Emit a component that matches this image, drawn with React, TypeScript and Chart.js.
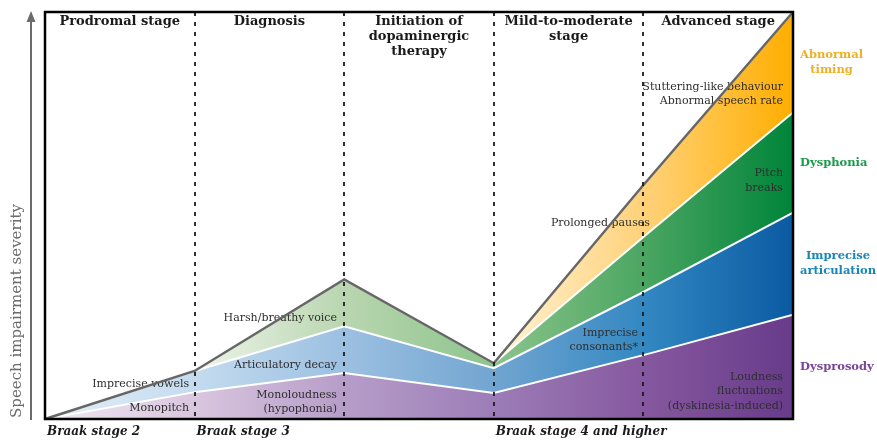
import { useEffect, useRef } from "react";
import { Chart, registerables } from "chart.js";

Chart.register(...registerables);

// ---- data ----
const stagePositions = [0, 1, 2, 3, 4, 5];
const dysprosody = [0, 6.6, 11.3, 6.4, 15.7, 25.6];
const impreciseArticulation = [0, 5.2, 11.5, 6.1, 15.5, 25.1];
const dysphonia = [0, 0, 11.5, 1.2, 13.5, 24.6];
const abnormalTiming = [0, 0, 0, 0, 12.8, 24.7];

const seriesNames = [["Dysprosody"], ["Imprecise", "articulation"], ["Dysphonia"], ["Abnormal", "timing"]];

const stageHeaders = [
  ["Prodromal stage"],
  ["Diagnosis"],
  ["Initiation of", "dopaminergic", "therapy"],
  ["Mild-to-moderate", "stage"],
  ["Advanced stage"],
];

const braakLabels = ["Braak stage 2", "Braak stage 3", "Braak stage 4 and higher"];
const braakStarts = [0, 1, 3];

const yAxisTitle = "Speech impairment severity";

// symptom annotations: text lines anchored (right edge) at x, first line centre at y (data units)
const symptomTexts = [
  ["Monopitch"],
  ["Imprecise vowels"],
  ["Monoloudness", "(hypophonia)"],
  ["Articulatory decay"],
  ["Harsh/breathy voice"],
  ["Imprecise", "consonants*"],
  ["Prolonged pauses"],
  ["Pitch", "breaks"],
  ["Stuttering-like behaviour", "Abnormal speech rate"],
  ["Loudness", "fluctuations", "(dyskinesia-induced)"],
];
const symptomX = [0.963, 0.963, 1.952, 1.952, 1.952, 3.964, 4.044, 4.933, 4.933, 4.933];
const symptomY = [2.7, 8.6, 5.9, 13.3, 24.8, 21.2, 48.2, 60.4, 81.6, 10.4];

const FONT = "'DejaVu Serif', serif";

const gradientStops: string[][] = [
  // purple
  ["#f1e8f2", "#d9c6df", "#b69dc9", "#9c7db7", "#86589f", "#683b8b"],
  // blue
  ["#e4eff9", "#c4dbef", "#9cc0e1", "#72a5d1", "#3388c2", "#0a5aa2"],
  // green
  ["#f4f7f1", "#eef4ea", "#b9d6b0", "#8cc48c", "#4ba662", "#00843a"],
  // orange
  ["#fff8e6", "#fff8e6", "#fff8e6", "#fff3d6", "#ffd27a", "#ffae00"],
];
const labelColors = ["#7a4598", "#1a86b5", "#1b9a4b", "#eeb125"];

function makeGradient(chart: any, idx: number, fallback: string) {
  const area = chart.chartArea;
  if (!area) return fallback;
  const g = chart.ctx.createLinearGradient(area.left, 0, area.right, 0);
  const stops = gradientStops[idx];
  stops.forEach((c, i) => g.addColorStop(i / (stops.length - 1), c));
  return g;
}

const overlayPlugin = {
  id: "overlay",
  afterDatasetsDraw(chart: any) {
    const { ctx, chartArea: a, scales } = chart;
    const xs = scales.x;
    const ys = scales.y;
    ctx.save();

    // symptom texts
    ctx.fillStyle = "#2e2e2e";
    ctx.font = `11px ${FONT}`;
    ctx.textAlign = "right";
    ctx.textBaseline = "middle";
    symptomTexts.forEach((lines, i) => {
      const px = xs.getPixelForValue(symptomX[i]);
      const py = ys.getPixelForValue(symptomY[i]);
      lines.forEach((t, j) => ctx.fillText(t, px, py + j * 14.5));
    });

    // gray outline along top of stack
    const meta = chart.getDatasetMeta(chart.data.datasets.length - 1);
    ctx.beginPath();
    meta.data.forEach((pt: any, i: number) => {
      if (i === 0) ctx.moveTo(pt.x, pt.y);
      else ctx.lineTo(pt.x, pt.y);
    });
    ctx.strokeStyle = "#666666";
    ctx.lineWidth = 2.5;
    ctx.lineJoin = "miter";
    ctx.stroke();

    // dashed stage separators
    ctx.setLineDash([4, 6]);
    ctx.strokeStyle = "#1a1a1a";
    ctx.lineWidth = 1.8;
    for (let s = 1; s < stageHeaders.length; s++) {
      const px = Math.round(xs.getPixelForValue(s));
      ctx.beginPath();
      ctx.moveTo(px, a.top);
      ctx.lineTo(px, a.bottom);
      ctx.stroke();
    }
    ctx.setLineDash([]);

    // frame
    ctx.strokeStyle = "#000000";
    ctx.lineWidth = 2.5;
    ctx.strokeRect(a.left, a.top, a.right - a.left, a.bottom - a.top);

    // stage headers
    ctx.fillStyle = "#1a1a1a";
    ctx.font = `bold 13px ${FONT}`;
    ctx.textAlign = "center";
    stageHeaders.forEach((lines, i) => {
      const cx = (xs.getPixelForValue(i) + xs.getPixelForValue(i + 1)) / 2;
      lines.forEach((t, j) => ctx.fillText(t, cx, a.top + 10 + j * 15));
    });

    // Braak labels
    ctx.font = `italic bold 12px ${FONT}`;
    ctx.textAlign = "left";
    braakLabels.forEach((t, i) => {
      ctx.fillText(t, xs.getPixelForValue(braakStarts[i]) + 2, a.bottom + 13);
    });

    // right-hand series labels at mid of each layer at the last stage
    const series = [dysprosody, impreciseArticulation, dysphonia, abnormalTiming];
    const last = stagePositions.length - 1;
    let base = 0;
    ctx.font = `bold 11.5px ${FONT}`;
    series.forEach((arr, i) => {
      const mid = base + arr[last] / 2;
      base += arr[last];
      const lines = seriesNames[i];
      const w = Math.max(...lines.map((t) => ctx.measureText(t).width));
      const left = a.right + 7;
      const cy = ys.getPixelForValue(mid) - ((lines.length - 1) * 15) / 2;
      ctx.fillStyle = labelColors[i];
      ctx.textAlign = "center";
      lines.forEach((t, j) => ctx.fillText(t, left + w / 2, cy + j * 15));
    });

    // y axis arrow
    const ax = 31;
    ctx.strokeStyle = "#6b6b6b";
    ctx.fillStyle = "#6b6b6b";
    ctx.lineWidth = 2;
    ctx.beginPath();
    ctx.moveTo(ax, a.bottom + 1);
    ctx.lineTo(ax, a.top + 6);
    ctx.stroke();
    ctx.beginPath();
    ctx.moveTo(ax, a.top - 1);
    ctx.lineTo(ax - 4.5, a.top + 10);
    ctx.lineTo(ax + 4.5, a.top + 10);
    ctx.closePath();
    ctx.fill();

    // y axis title
    ctx.save();
    ctx.translate(17, a.bottom);
    ctx.rotate(-Math.PI / 2);
    ctx.font = `15px ${FONT}`;
    ctx.textAlign = "left";
    ctx.textBaseline = "middle";
    ctx.fillStyle = "#6b6b6b";
    ctx.fillText(yAxisTitle, 1, 0);
    ctx.restore();

    ctx.restore();
  },
};

export default function App() {
  const canvasRef = useRef<HTMLCanvasElement | null>(null);

  useEffect(() => {
    document.body.style.margin = "0";
    const canvas = canvasRef.current;
    if (!canvas) return;
    const series = [dysprosody, impreciseArticulation, dysphonia, abnormalTiming];
    const fallbacks = ["#b69dc9", "#72a5d1", "#8cc48c", "#ffd27a"];
    const chart = new Chart(canvas, {
      type: "line",
      data: {
        datasets: series.map((arr, idx) => ({
          label: seriesNames[idx].join(" "),
          data: stagePositions.map((x, i) => ({ x, y: arr[i] })),
          fill: idx === 0 ? "origin" : "-1",
          backgroundColor: (c: any) => makeGradient(c.chart, idx, fallbacks[idx]),
          borderColor: "#ffffff",
          borderWidth: 2,
          pointRadius: 0,
          tension: 0,
        })),
      },
      options: {
        animation: false,
        responsive: true,
        maintainAspectRatio: false,
        layout: { padding: { left: 45, right: 84, top: 12, bottom: 22 } },
        plugins: { legend: { display: false }, tooltip: { enabled: false } },
        scales: {
          x: { type: "linear", min: 0, max: 5, display: false },
          y: { stacked: true, min: 0, max: 100, display: false },
        },
      },
      plugins: [overlayPlugin],
    });
    return () => chart.destroy();
  }, []);

  return (
    <div style={{ width: 877, height: 441, position: "relative" }}>
      <canvas ref={canvasRef} />
    </div>
  );
}
